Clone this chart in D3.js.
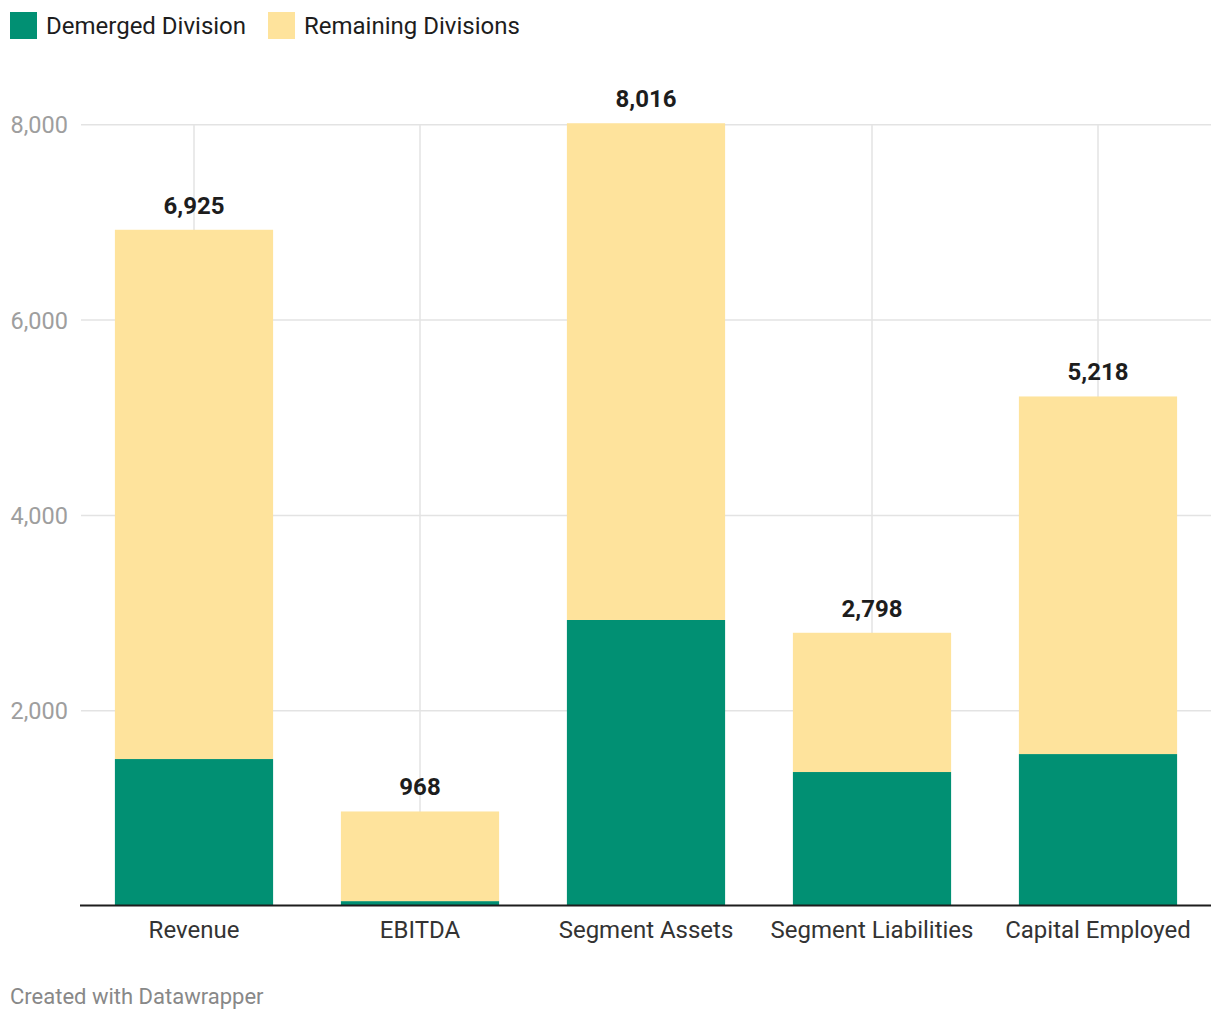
<!DOCTYPE html>
<html><head><meta charset="utf-8">
<script src="https://cdn.jsdelivr.net/npm/d3@7"></script>
<style>body{margin:0;background:#fff;font-family:Roboto,"Noto Sans",sans-serif;}</style>
</head><body>
<svg id="c" width="1220" height="1020"></svg>
<script>
const categories = ["Revenue","EBITDA","Segment Assets","Segment Liabilities","Capital Employed"];
const demerged = [1505, 50, 2929, 1372, 1556];
const totals = [6925, 968, 8016, 2798, 5218];
const remaining = totals.map((t,i)=>t-demerged[i]);
const seriesNames = ["Demerged Division","Remaining Divisions"];
const seriesColors = ["#019073","#fee39c"];
const yTicks = [2000,4000,6000,8000];

const svg = d3.select("#c");
const x = d3.scaleBand().domain(categories).range([81,1211]).paddingInner(0.3).paddingOuter(0.15);
const y = d3.scaleLinear().domain([0,8000]).range([906,124.8]);
const fmt = d3.format(",");

svg.append("g").selectAll("line").data(yTicks).join("line")
  .attr("x1",81).attr("x2",1211).attr("y1",d=>y(d)).attr("y2",d=>y(d))
  .attr("stroke","#e3e3e3").attr("stroke-width",1.5);
svg.append("g").selectAll("line").data(categories).join("line")
  .attr("x1",d=>x(d)+x.bandwidth()/2).attr("x2",d=>x(d)+x.bandwidth()/2)
  .attr("y1",y(8000)).attr("y2",y(0))
  .attr("stroke","#e3e3e3").attr("stroke-width",1.5);

svg.append("g").selectAll("text").data(yTicks).join("text")
  .attr("x",68).attr("y",d=>y(d)+8.5).attr("text-anchor","end")
  .attr("font-size",23.5).attr("fill","#9e9e9e").text(fmt);

const rows = categories.map((c,i)=>({cat:c, d:demerged[i], r:remaining[i]}));
const stack = d3.stack().keys(["d","r"])(rows);
svg.append("g").selectAll("g").data(stack).join("g")
  .attr("fill",(s,i)=>seriesColors[i])
  .selectAll("rect").data(s=>s).join("rect")
  .attr("x",d=>x(d.data.cat)).attr("width",x.bandwidth())
  .attr("y",d=>y(d[1])).attr("height",d=>y(d[0])-y(d[1]));

svg.append("line").attr("x1",80).attr("x2",1211).attr("y1",905.5).attr("y2",905.5)
  .attr("stroke","#1d1d1d").attr("stroke-width",2);

svg.append("g").selectAll("text").data(categories).join("text")
  .attr("x",d=>x(d)+x.bandwidth()/2).attr("y",(d,i)=>y(totals[i])-16)
  .attr("text-anchor","middle").attr("font-size",24).attr("font-weight","bold")
  .attr("fill","#1d1d1d").text((d,i)=>fmt(totals[i]));

svg.append("g").selectAll("text").data(categories).join("text")
  .attr("x",d=>x(d)+x.bandwidth()/2).attr("y",937.5)
  .attr("text-anchor","middle").attr("font-size",24).attr("fill","#333").text(d=>d);

const leg = svg.append("g");
const legX = [10, 268];
seriesNames.forEach((n,i)=>{
  leg.append("rect").attr("x",legX[i]).attr("y",12).attr("width",27).attr("height",27).attr("fill",seriesColors[i]);
  leg.append("text").attr("x",legX[i]+36).attr("y",33.5).attr("font-size",24).attr("fill","#1d1d1d").text(n);
});

svg.append("text").attr("x",10).attr("y",1004).attr("font-size",22).attr("fill","#888").text("Created with Datawrapper");
</script>
</body></html>
